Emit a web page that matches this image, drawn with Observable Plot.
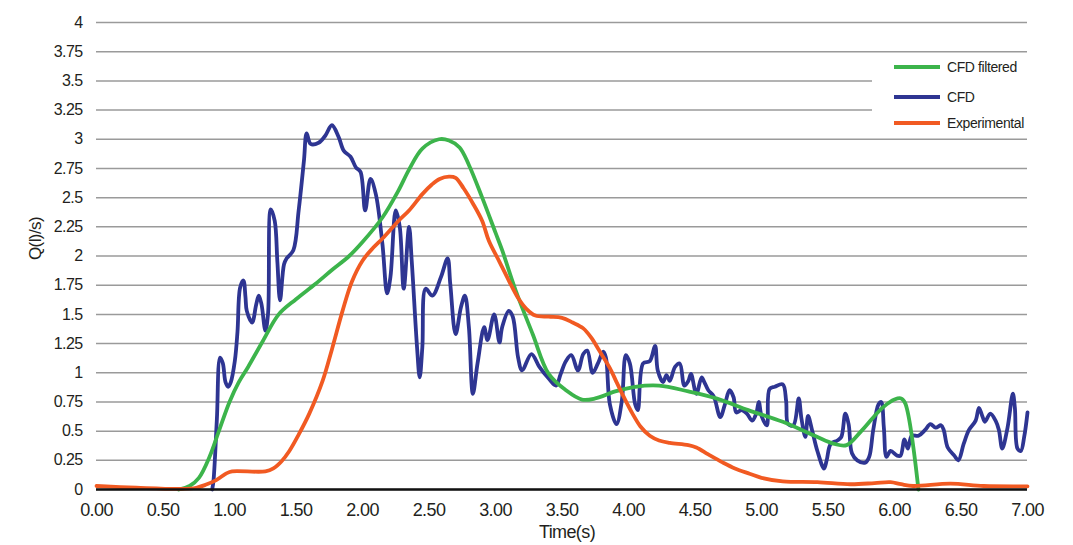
<!DOCTYPE html>
<html>
<head>
<meta charset="utf-8">
<script src="https://cdn.jsdelivr.net/npm/d3@7"></script>
<script src="https://cdn.jsdelivr.net/npm/@observablehq/plot@0.6"></script>
<style>
  html, body { margin: 0; padding: 0; background: #fff; }
  #wrap { position: relative; width: 1073px; height: 545px; font-family: "Liberation Sans", Arial, Helvetica, sans-serif; }
  #wrap svg text { letter-spacing: -0.6px; }
  #legend { position: absolute; left: 872px; top: 55px; width: 158px; height: 80px; background: #fff; }
  .item { position: absolute; left: 22px; height: 20px; display: flex; align-items: center; }
  .sw { width: 46px; height: 4px; margin-right: 7px; }
  .lab { font-size: 14px; color: #231f20; letter-spacing: -0.4px; white-space: nowrap; }
</style>
</head>
<body>
<div id="wrap"></div>
<script>
// ---- data ----
const seriesNames = ["CFD filtered", "CFD", "Experimental"];
const seriesColors = ["#3cb44b", "#2e3592", "#f15a22"];

const xTicks = [0, 0.5, 1, 1.5, 2, 2.5, 3, 3.5, 4, 4.5, 5, 5.5, 6, 6.5, 7];
const xTickLabels = ["0.00","0.50","1.00","1.50","2.00","2.50","3.00","3.50","4.00","4.50","5.00","5.50","6.00","6.50","7.00"];
const yTicks = [0, 0.25, 0.5, 0.75, 1, 1.25, 1.5, 1.75, 2, 2.25, 2.5, 2.75, 3, 3.25, 3.5, 3.75, 4];
const yTickLabels = ["0","0.25","0.5","0.75","1","1.25","1.5","1.75","2","2.25","2.5","2.75","3","3.25","3.5","3.75","4"];

const filteredT = [0.62,0.7,0.77,0.85,0.92,1.0,1.07,1.14,1.25,1.37,1.5,1.645,1.77,1.9,2.0,2.15,2.27,2.35,2.45,2.575,2.65,2.73,2.8,2.9,3.0,3.05,3.15,3.28,3.4,3.53,3.65,3.75,3.9,4.05,4.23,4.45,4.66,4.9,5.16,5.4,5.55,5.64,5.75,5.85,5.92,6.0,6.05,6.08,6.18];
const filteredQ = [0,0.03,0.10,0.28,0.5,0.75,0.92,1.05,1.27,1.5,1.63,1.76,1.88,2.0,2.12,2.33,2.56,2.74,2.92,3.0,2.99,2.93,2.78,2.5,2.2,2.05,1.71,1.33,0.99,0.85,0.77,0.78,0.84,0.88,0.89,0.84,0.78,0.68,0.58,0.46,0.39,0.38,0.5,0.63,0.71,0.77,0.78,0.74,0];

const cfdT = [0.87,0.88,0.905,0.929,0.95,0.97,0.99,1.01,1.04,1.06,1.08,1.105,1.12,1.13,1.17,1.2,1.22,1.24,1.27,1.29,1.31,1.34,1.36,1.38,1.41,1.43,1.48,1.52,1.56,1.58,1.61,1.67,1.72,1.77,1.82,1.86,1.91,1.95,1.985,2.02,2.06,2.10,2.15,2.185,2.21,2.25,2.28,2.31,2.35,2.37,2.41,2.43,2.45,2.475,2.525,2.59,2.64,2.66,2.70,2.74,2.77,2.80,2.83,2.865,2.915,2.94,2.99,3.03,3.05,3.10,3.13,3.17,3.20,3.27,3.33,3.40,3.455,3.49,3.53,3.57,3.62,3.66,3.69,3.73,3.77,3.81,3.83,3.86,3.91,3.95,3.98,4.01,4.05,4.07,4.11,4.16,4.20,4.22,4.26,4.285,4.31,4.35,4.385,4.42,4.45,4.47,4.51,4.55,4.57,4.60,4.64,4.69,4.725,4.76,4.79,4.81,4.85,4.89,4.93,4.96,4.98,5.00,5.04,5.06,5.10,5.16,5.185,5.20,5.24,5.28,5.30,5.33,5.35,5.38,5.42,5.47,5.49,5.52,5.57,5.60,5.63,5.655,5.68,5.72,5.78,5.81,5.84,5.88,5.90,5.92,5.94,5.97,6.02,6.045,6.075,6.10,6.13,6.18,6.23,6.27,6.31,6.35,6.37,6.40,6.45,6.48,6.52,6.56,6.61,6.635,6.66,6.68,6.72,6.76,6.785,6.81,6.85,6.89,6.905,6.925,6.95,6.975,7.0];
const cfdQ = [0,0.08,0.6,1.13,1.08,0.92,0.88,0.92,1.10,1.35,1.73,1.79,1.65,1.53,1.43,1.58,1.66,1.59,1.36,1.51,2.40,2.30,1.95,1.62,1.93,1.98,2.05,2.39,2.82,3.05,2.96,2.97,3.03,3.12,3.02,2.90,2.85,2.76,2.72,2.39,2.66,2.53,2.10,1.68,1.82,2.39,2.25,1.72,2.25,1.96,1.22,0.96,1.22,1.72,1.66,1.82,1.98,1.76,1.33,1.56,1.66,1.39,0.82,1.08,1.39,1.28,1.50,1.26,1.39,1.53,1.48,1.13,1.02,1.16,1.05,0.95,0.89,0.99,1.10,1.15,1.02,1.16,1.19,1.00,1.08,1.18,1.13,0.73,0.56,0.76,1.15,1.08,0.73,0.68,1.08,1.10,1.23,1.02,0.92,0.98,0.93,1.05,1.08,0.89,0.93,0.99,0.82,0.96,0.92,0.85,0.80,0.62,0.73,0.85,0.79,0.66,0.68,0.65,0.59,0.65,0.75,0.63,0.55,0.86,0.88,0.90,0.76,0.56,0.55,0.78,0.61,0.45,0.63,0.51,0.33,0.18,0.25,0.39,0.42,0.45,0.65,0.56,0.31,0.25,0.23,0.28,0.51,0.73,0.75,0.53,0.28,0.33,0.29,0.29,0.43,0.35,0.46,0.46,0.51,0.56,0.53,0.55,0.51,0.36,0.29,0.25,0.39,0.51,0.59,0.70,0.63,0.58,0.65,0.59,0.51,0.35,0.53,0.82,0.70,0.35,0.33,0.45,0.66];

const expT = [0,0.3,0.64,0.75,0.82,0.9,0.98,1.02,1.27,1.33,1.39,1.45,1.52,1.6,1.7,1.77,1.85,1.92,2.0,2.08,2.15,2.27,2.35,2.45,2.52,2.58,2.65,2.70,2.76,2.83,2.9,2.95,3.03,3.1,3.17,3.23,3.3,3.4,3.5,3.58,3.66,3.72,3.78,3.86,3.91,3.97,4.03,4.09,4.16,4.23,4.31,4.45,4.51,4.6,4.71,4.8,4.91,5.0,5.16,5.42,5.67,5.85,5.97,6.05,6.14,6.42,6.67,7.0];
const expQ = [0.03,0.015,0.005,0.015,0.04,0.08,0.14,0.155,0.155,0.18,0.24,0.33,0.47,0.65,0.93,1.2,1.53,1.78,1.96,2.07,2.15,2.3,2.39,2.53,2.61,2.66,2.68,2.67,2.58,2.45,2.3,2.13,1.95,1.79,1.64,1.55,1.49,1.48,1.47,1.43,1.38,1.3,1.19,1.04,0.92,0.78,0.65,0.54,0.46,0.42,0.4,0.38,0.36,0.3,0.23,0.18,0.135,0.1,0.07,0.063,0.045,0.055,0.063,0.045,0.03,0.05,0.03,0.027];

// ---- build tables ----
const toRows = (T, Q) => T.map((t, i) => ({t, q: Q[i]}));
const filtered = toRows(filteredT, filteredQ);
const cfd = toRows(cfdT, cfdQ);
const exp = toRows(expT, expQ);

const chart = Plot.plot({
  width: 1073,
  height: 545,
  marginTop: 22,
  marginBottom: 56,
  marginLeft: 96,
  marginRight: 46,
  x: {domain: [0, 7]},
  y: {domain: [0, 4]},
  style: {fontFamily: "'Liberation Sans', Arial, Helvetica, sans-serif", color: "#231f20", background: "#fff"},
  marks: [
    Plot.gridY(yTicks, {stroke: "#9a9a9a", strokeOpacity: 1, strokeWidth: 1.5}),
    Plot.axisY(yTicks, {tickSize: 0, tickPadding: 14, fontSize: 16, label: null,
      tickFormat: d => yTickLabels[yTicks.indexOf(d)]}),
    Plot.axisX(xTicks, {tickSize: 0, tickPadding: 14, fontSize: 18, label: null,
      tickFormat: d => xTickLabels[xTicks.indexOf(d)]}),
    Plot.line(cfd, {x: "t", y: "q", stroke: seriesColors[1], strokeWidth: 3.8, curve: "catmull-rom"}),
    Plot.line(filtered, {x: "t", y: "q", stroke: seriesColors[0], strokeWidth: 3.8, curve: "catmull-rom"}),
    Plot.line(exp, {x: "t", y: "q", stroke: seriesColors[2], strokeWidth: 3.8, curve: "catmull-rom"}),
    Plot.ruleY([0], {stroke: "#111", strokeWidth: 2.5}),
    Plot.text(["Time(s)"], {frameAnchor: "bottom", dy: 48, dx: 5, fontSize: 18, fill: "#231f20"}),
    Plot.text(["Q(l)/s)"], {frameAnchor: "left", rotate: -90, dx: -61, dy: 4, fontSize: 17, fill: "#231f20"})
  ]
});

const wrap = document.getElementById("wrap");
wrap.appendChild(chart);

// legend
const legend = document.createElement("div");
legend.id = "legend";
const rowTops = [2, 32, 58];
seriesNames.forEach((name, i) => {
  const it = document.createElement("div");
  it.className = "item";
  it.style.top = rowTops[i] + "px";
  const sw = document.createElement("div");
  sw.className = "sw";
  sw.style.background = seriesColors[i];
  const lab = document.createElement("span");
  lab.className = "lab";
  lab.textContent = name;
  it.appendChild(sw);
  it.appendChild(lab);
  legend.appendChild(it);
});
wrap.appendChild(legend);
</script>
</body>
</html>
